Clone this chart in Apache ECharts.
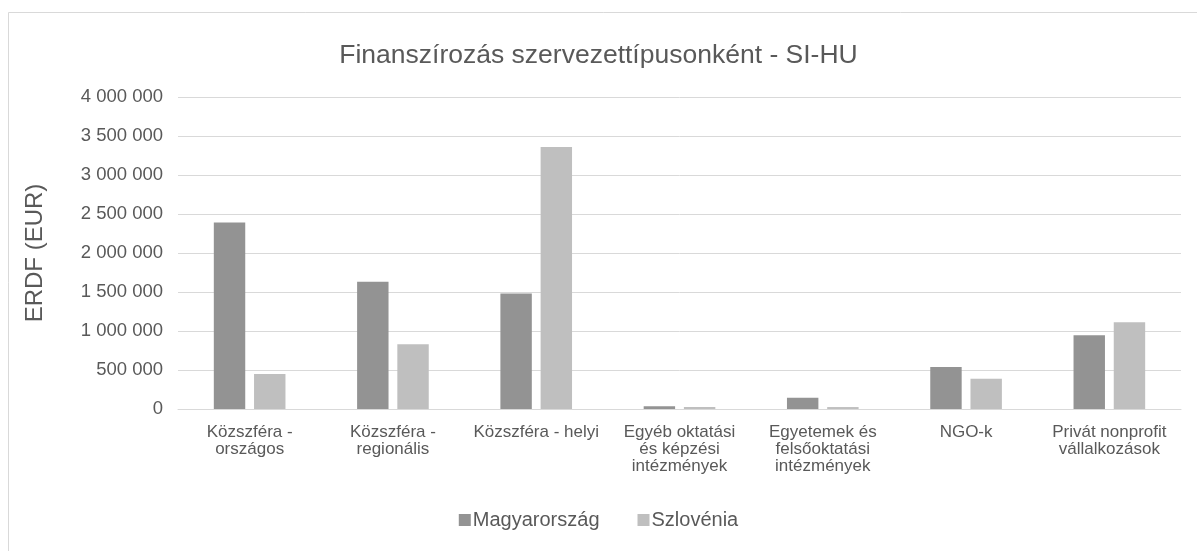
<!DOCTYPE html>
<html>
<head>
<meta charset="utf-8">
<script src="https://cdn.jsdelivr.net/npm/echarts@6/dist/echarts.min.js"></script>
<style>
html,body{margin:0;padding:0;background:#fff;}
#c{width:1197px;height:551px;}
</style>
</head>
<body>
<div id="c"></div>
<script>
const categories = [
  "Közszféra -\nországos",
  "Közszféra -\nregionális",
  "Közszféra - helyi",
  "Egyéb oktatási\nés képzési\nintézmények",
  "Egyetemek és\nfelsőoktatási\nintézmények",
  "NGO-k",
  "Privát nonprofit\nvállalkozások"
];
const seriesNames = ["Magyarország", "Szlovénia"];
const magyarorszag = [2390000, 1630000, 1480000, 35000, 145000, 537000, 946000];
const szlovenia = [450000, 830000, 3360000, 25000, 25000, 388000, 1112000];
const yTicks = { min: 0, max: 4000000, interval: 500000 };

const FONT = '"Liberation Sans", Arial, sans-serif';
const TXT = '#595959';
const chart = echarts.init(document.getElementById('c'), null, { renderer: 'canvas' });
chart.setOption({
  animation: false,
  backgroundColor: '#fff',
  textStyle: { fontFamily: FONT, color: TXT },
  graphic: [{
    type: 'rect', silent: true, z: -1,
    shape: { x: 8.5, y: 12.5, width: 1300, height: 700 },
    style: { fill: 'none', stroke: '#d9d9d9', lineWidth: 1 }
  }],
  title: {
    text: 'Finanszírozás szervezettípusonként - SI-HU',
    left: 'center', top: 37,
    textStyle: { fontFamily: FONT, color: TXT, fontSize: 26.5, fontWeight: 'normal' }
  },
  legend: {
    bottom: 16, left: 'center',
    itemWidth: 12, itemHeight: 12, itemGap: 38,
    icon: 'rect',
    textStyle: { fontFamily: FONT, color: TXT, fontSize: 20, padding: [0, 0, 0, -3] },
    data: seriesNames
  },
  grid: { left: 178, right: 16, top: 97, bottom: 142, containLabel: false },
  xAxis: {
    type: 'category',
    data: categories,
    axisLine: { show: true, lineStyle: { color: '#d9d9d9', width: 1 } },
    axisTick: { show: false },
    axisLabel: {
      interval: 0, color: TXT, fontFamily: FONT, fontSize: 17,
      lineHeight: 17, margin: 15
    }
  },
  yAxis: {
    type: 'value',
    min: yTicks.min, max: yTicks.max, interval: yTicks.interval,
    name: 'ERDF (EUR)',
    nameLocation: 'middle',
    nameGap: 131,
    nameTextStyle: { fontFamily: FONT, color: TXT, fontSize: 24 },
    axisLine: { show: false },
    axisTick: { show: false },
    splitLine: { lineStyle: { color: '#d9d9d9', width: 1 } },
    axisLabel: {
      color: TXT, fontFamily: FONT, fontSize: 18.5, margin: 15,
      formatter: v => String(v).replace(/\B(?=(\d{3})+(?!\d))/g, ' ')
    }
  },
  series: [
    { name: seriesNames[0], type: 'bar', data: magyarorszag,
      itemStyle: { color: '#939393' }, barGap: '28%', barCategoryGap: '50%' },
    { name: seriesNames[1], type: 'bar', data: szlovenia,
      itemStyle: { color: '#bfbfbf' }, barGap: '28%', barCategoryGap: '50%' }
  ]
});
</script>
</body>
</html>
